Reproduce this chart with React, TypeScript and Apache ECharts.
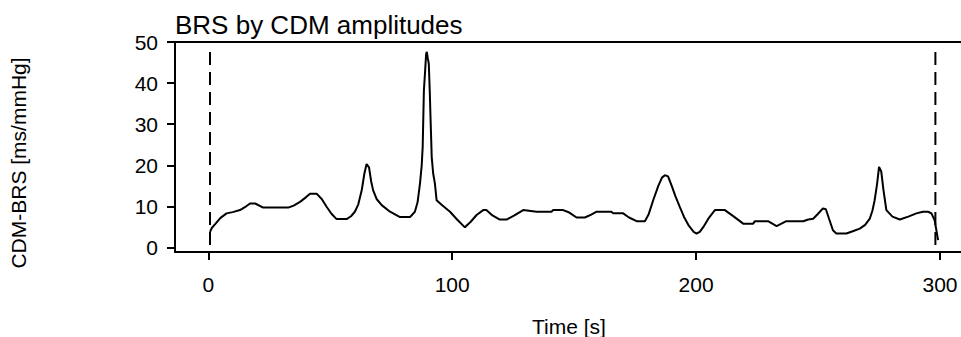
import React, { useEffect, useRef } from "react";
import * as echarts from "echarts";

const chartTitle = "BRS by CDM amplitudes";
const xTitle = "Time [s]";
const yTitle = "CDM-BRS [ms/mmHg]";
const xTicks = [0, 100, 200, 300];
const yTicks = [0, 10, 20, 30, 40, 50];

const times = [
  0.7, 1.5, 3, 5, 7.5, 10, 13, 15, 17.1, 19.2, 22.5, 32.8, 35, 37.6, 40, 41.7, 44.4, 46.5, 48.5, 50.5,
  52.6, 56.7, 58.5, 60.1, 61.5, 62.9, 64, 64.9, 65.9, 66.8, 67.6, 69, 71.1, 74.5, 78.6, 82.7, 84.7, 85.8,
  86.8, 87.5, 87.9, 88.4, 88.8, 89.3, 89.6, 90, 90.4, 90.8, 91.1, 91.6, 92.2, 92.9, 93.6, 96, 99.1, 102,
  105.2, 107.5, 110, 112.7, 114, 116.5, 119.5, 122.3, 125.5, 129.1, 134.6, 140.7, 141.4, 145.5, 148, 151,
  154.4, 157, 159.2, 165.3, 166, 170.1, 172.5, 175.6, 179, 180.5, 182.4, 184.5, 186, 187.2, 188.5, 190,
  191.5, 193.3, 195, 197, 199, 200.2, 201.5, 203, 205, 207.7, 211.8, 215.5, 219.3, 223.4, 224.1, 229.5,
  233, 237, 243.9, 246, 248, 250, 252, 253.2, 254.5, 256.1, 257.5, 261.6, 264.5, 267.1, 269.3, 271.2,
  272.3, 273.2, 274.2, 275, 275.9, 276.8, 278, 280.5, 283.5, 287, 290.3, 293, 295.1, 296.5, 297.8, 298.5,
  299.2,
];
const values = [
  3.8, 4.8, 5.8, 7.2, 8.3, 8.6, 9.1, 9.8, 10.7, 10.7, 9.7, 9.7, 10.2, 11.1, 12.2, 13.1, 13.1, 11.8, 9.9, 8.2,
  6.9, 6.9, 7.6, 8.7, 10.5, 13.9, 18, 20.3, 19.5, 16, 13.9, 11.8, 10.3, 8.7, 7.4, 7.4, 8.7, 11,
  15.6, 20, 24.5, 38.3, 42, 47, 47.6, 46, 44.7, 38, 31.8, 22, 18, 15.6, 11.5, 10.2, 8.7, 6.8,
  4.9, 6.2, 7.9, 9.1, 9.1, 7.8, 6.8, 6.8, 7.8, 9.1, 8.7, 8.7, 9.1, 9.1, 8.5, 7.3,
  7.3, 8, 8.7, 8.7, 8.3, 8.3, 7.3, 6.4, 6.4, 8, 11.5, 15, 17, 17.6, 17.3, 15,
  12.5, 9.9, 7.5, 5.3, 3.8, 3.4, 3.8, 5, 7, 9.1, 9.1, 7.5, 5.8, 5.8, 6.4, 6.4,
  5.2, 6.4, 6.4, 6.8, 7.0, 8.2, 9.5, 9.3, 7, 4.2, 3.4, 3.4, 4, 4.6, 5.5, 7.0,
  9, 11.5, 15.5, 19.6, 18.5, 14, 9.1, 7.5, 6.8, 7.5, 8.3, 8.7, 8.7, 8.3, 6.6, 4.2,
  1.8,
];
const markerTimes = [0.7, 298.1];
const markerRange = [0.6, 49.2];

const FONT = "'Liberation Sans', Arial, Helvetica, sans-serif";

export default function App() {
  const ref = useRef<HTMLDivElement>(null);
  useEffect(() => {
    document.body.style.margin = "0";
    if (!ref.current) return;
    const chart = echarts.init(ref.current, null, { renderer: "svg" });
    const lineData = times.map((t, i) => [t, values[i]]);
    const markerSeries = markerTimes.map((t) => ({
      type: "line",
      data: markerRange.map((v) => [t, v]),
      showSymbol: false,
      silent: true,
      lineStyle: { color: "#000", width: 2, type: [13, 7] },
    }));
    chart.setOption({
      animation: false,
      backgroundColor: "#fff",
      grid: { left: 175, top: 42, right: 0, bottom: 85, containLabel: false },
      xAxis: [
        {
          type: "value",
          min: -13.65,
          max: 308.6,
          axisLine: { show: true, onZero: false, lineStyle: { color: "#000", width: 2 } },
          axisTick: { show: true, customValues: xTicks, length: 8, lineStyle: { color: "#000", width: 2 } },
          axisLabel: { customValues: xTicks, color: "#000", fontSize: 21, fontFamily: FONT, margin: 22 },
          splitLine: { show: false },
        },
        {
          type: "value",
          position: "top",
          min: -13.65,
          max: 308.6,
          axisLine: { show: true, onZero: false, lineStyle: { color: "#000", width: 2 } },
          axisTick: { show: false },
          axisLabel: { show: false },
          splitLine: { show: false },
        },
      ],
      yAxis: {
        type: "value",
        min: -1.1,
        max: 50,
        axisLine: { show: true, onZero: false, lineStyle: { color: "#000", width: 2 } },
        axisTick: { show: true, customValues: yTicks, length: 8, lineStyle: { color: "#000", width: 2 } },
        axisLabel: { customValues: yTicks, color: "#000", fontSize: 21, fontFamily: FONT, margin: 17 },
        splitLine: { show: false },
      },
      series: [
        {
          type: "line",
          data: lineData,
          showSymbol: false,
          silent: true,
          lineStyle: { color: "#000", width: 2 },
        },
        ...markerSeries,
      ],
      graphic: [
        {
          type: "text",
          left: 175,
          top: 12,
          style: { text: chartTitle, fill: "#000", fontSize: 26, fontFamily: FONT },
        },
        {
          type: "text",
          x: 569,
          y: 326,
          style: { text: xTitle, fill: "#000", fontSize: 21, fontFamily: FONT, align: "center", verticalAlign: "middle" },
        },
        {
          type: "text",
          x: 18,
          y: 163,
          rotation: Math.PI / 2,
          style: { text: yTitle, fill: "#000", fontSize: 21, fontFamily: FONT, align: "center", verticalAlign: "middle" },
        },
      ],
    });
    return () => chart.dispose();
  }, []);
  return <div ref={ref} style={{ width: 961, height: 337 }} />;
}
